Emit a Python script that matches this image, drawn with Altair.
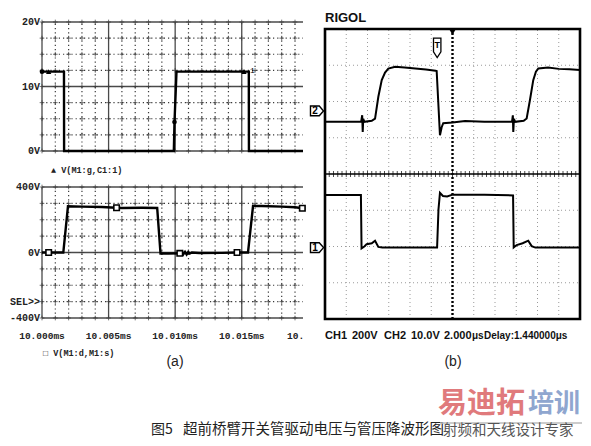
import altair as alt
import pandas as pd

# ---------------- data ----------------
# (a) upper trace: gate voltage V(M1:g,C1:1)   time [ms], volts
gate_t = [10.0000, 10.00165, 10.00166, 10.00990, 10.00995, 10.01010, 10.01553, 10.01554, 10.01960]
gate_v = [12.3, 12.3, 0.0, 0.0, 4.5, 12.3, 12.3, 0.0, 0.0]
gate_dot_t = [10.0000, 10.00995]
gate_dot_v = [12.3, 4.5]
gate_tri_t = [10.00050, 10.01517]
gate_tri_v = [12.3, 12.3]

# (a) lower trace: V(M1:d,M1:s)   time [ms], volts
vds_t = [10.0000, 10.00160, 10.00195, 10.0030, 10.0045, 10.0052, 10.0060, 10.0075, 10.00865,
         10.00890, 10.0095, 10.0103, 10.01050, 10.01062, 10.01074, 10.01086, 10.01098, 10.01110,
         10.01125, 10.0118, 10.0135, 10.01465, 10.01547, 10.01585, 10.0165, 10.0180, 10.0190, 10.0196]
vds_v = [0, 0, 282, 280, 278, 275, 272, 273, 272,
         -6, -6, -5, 6, -10, 4, -12, 3, -6,
         0, -3, -2, 0, 0, 285, 284, 280, 276, 270]
vds_sq_t = [10.0005, 10.0056, 10.01035, 10.01465, 10.01955]
vds_sq_v = [0, 273, -5, 0, 270]

# (b) oscilloscope: time [us] relative to screen centre
ch2_t = [-12.0, -8.60, -8.50, -8.45, -8.40, -8.30, -7.60, -7.29, -6.98, -6.66, -6.35, -6.04, -5.40,
         -4.50, -3.50, -2.50, -1.60, -1.49, -1.35, -1.18, -1.02, -0.87, 0.0, 1.18, 3.0, 5.60, 5.68,
         5.72, 5.78, 5.90, 6.70, 6.98, 7.29, 7.60, 7.85, 8.08, 9.0, 10.0, 11.0, 12.0]
ch2_v = [0.0, 0.0, 1.8, -2.8, 0.8, 0.0, 0.3, 0.9, 6.9, 11.5, 13.6, 14.7, 15.2,
         15.0, 14.7, 14.4, 14.1, 14.0, 6.0, -3.7, -1.5, -0.4, -0.2, 0.2, 0.0, 0.0, 1.8,
         -2.8, 0.8, 0.0, 0.3, 0.9, 6.0, 11.5, 13.8, 14.7, 15.0, 14.6, 14.5, 14.3]
ch1_t = [-12.0, -8.62, -8.56, -8.30, -8.08, -7.60, -7.29, -6.98, -6.60, -3.0, -1.45, -1.32, -1.18,
         -0.90, -0.50, 0.0, 3.0, 5.70, 5.76, 6.04, 6.60, 7.13, 7.45, 7.80, 10.0, 12.0]
ch1_v = [290, 290, -4, 6, 19, 24, 38, 4, 0, 0, 0, 210, 302,
         285, 282, 292, 292, 288, 1, 14, 24, 38, 8, 0, 0, 0]
CH1_VDIV, CH2_VDIV = 200.0, 10.0      # volts per division
CH1_GND, CH2_GND = -2.03, 1.44        # ground levels (divisions)
CH1_MARK, CH2_MARK = -2.03, 1.74
TRIG_T = -1.44

top_lbl_v = [20, 10, 0]
top_lbl_txt = ["20V", "10V", "0V"]
bot_lbl_v = [400, 0, -300, -400]
bot_lbl_txt = ["400V", "0V", "SEL>>", "-400V"]
x_lbl_t = [10.000, 10.005, 10.010, 10.015]
x_lbl_txt = ["10.000ms", "10.005ms", "10.010ms", "10.015ms"]

# ---------------- layout ----------------
def P(v):
    return v - 8

AX = alt.Scale(domain=[10.000, 10.0196], range=[P(42), P(303)], nice=False, zero=False)
AY1 = alt.Scale(domain=[0, 20], range=[P(151), P(22)], nice=False, zero=False)
AY2 = alt.Scale(domain=[-400, 400], range=[P(318), P(187)], nice=False, zero=False)
BX = alt.Scale(domain=[-12, 12], range=[P(325), P(580)], nice=False, zero=False)
BY = alt.Scale(domain=[-4, 4], range=[P(319), P(29)], nice=False, zero=False)


def qx(f, s):
    return alt.X(f, type="quantitative", scale=s, axis=None)


def qy(f, s):
    return alt.Y(f, type="quantitative", scale=s, axis=None)


def hrules(levels, x1, x2, xs, ys, **style):
    df = pd.DataFrame({"y": levels, "x1": [x1] * len(levels), "x2": [x2] * len(levels)})
    return alt.Chart(df).mark_rule(**style).encode(x=qx("x1", xs), x2=alt.X2("x2"), y=qy("y", ys))


def vrules(pos, y1, y2, xs, ys, **style):
    df = pd.DataFrame({"x": pos, "y1": [y1] * len(pos), "y2": [y2] * len(pos)})
    return alt.Chart(df).mark_rule(**style).encode(x=qx("x", xs), y=qy("y1", ys), y2=alt.Y2("y2"))


def trace(ts, vs, xs, ys, **style):
    df = pd.DataFrame({"t": ts, "v": vs, "i": list(range(len(ts)))})
    return alt.Chart(df).mark_line(**style).encode(x=qx("t", xs), y=qy("v", ys), order="i:Q")


def pts(ts, vs, xs, ys, **style):
    df = pd.DataFrame({"t": ts, "v": vs})
    return alt.Chart(df).mark_point(**style).encode(x=qx("t", xs), y=qy("v", ys))


ONE = pd.DataFrame({"a": [0]})


def label(txt, x, y, **kw):
    return alt.Chart(ONE).mark_text(text=txt, **kw).encode(x=alt.value(P(x)), y=alt.value(P(y)))


MONO = "Liberation Mono"
SANS = "Liberation Sans"
DOT = dict(color="#3a3a3a", strokeWidth=1.2, strokeDash=[1.2, 3])
SOLID = dict(color="#4a4a4a", strokeWidth=1.3)
CROSS = "M-1,0L1,0M0,-1L0,1"

layers = []

# ---- panel (a) grids ----
us_steps = [10.000 + i * 0.001 for i in range(20)]
majors = [us_steps[i] for i in range(20) if i % 5 == 0]
minors = [us_steps[i] for i in range(20) if i % 5 != 0]
top_levels = [i * 2.5 for i in range(9)]
bot_levels = [-400 + i * 100 for i in range(9)]
for levels, ys, solid_lv in [(top_levels, AY1, [0, 10, 20]), (bot_levels, AY2, [-400, 0, 400])]:
    lo, hi = levels[0], levels[-1]
    layers.append(vrules(minors, lo, hi, AX, ys, **DOT))
    layers.append(hrules([l for l in levels if l not in solid_lv], 10.000, 10.0196, AX, ys, **DOT))
    layers.append(vrules(majors, lo, hi, AX, ys, **SOLID))
    layers.append(hrules(solid_lv, 10.000, 10.0196, AX, ys, **SOLID))
    cx = [t for t in us_steps for _ in levels]
    cy = [l for _ in us_steps for l in levels]
    layers.append(pts(cx, cy, AX, ys, shape=CROSS, size=22, filled=False, color="#3a3a3a", strokeWidth=1))

# ---- panel (a) traces ----
layers.append(trace(gate_t, gate_v, AX, AY1, color="black", strokeWidth=2.4))
layers.append(trace(vds_t, vds_v, AX, AY2, color="black", strokeWidth=2.4))
layers.append(pts(gate_dot_t, gate_dot_v, AX, AY1, shape="circle", size=22, filled=True, color="black", opacity=1))
layers.append(pts(gate_tri_t, gate_tri_v, AX, AY1, shape="triangle-up", size=28, filled=True, color="black", opacity=1))
layers.append(pts(vds_sq_t, vds_sq_v, AX, AY2, shape="square", size=30, filled=True, fill="white",
                  stroke="black", strokeWidth=1.6, opacity=1))
layers.append(alt.Chart(pd.DataFrame({"t": [gate_tri_t[1]], "v": [gate_tri_v[1]]})).mark_text(
    text="1", font=MONO, fontSize=8, dx=6, dy=-1, align="left", color="black").encode(
    x=qx("t", AX), y=qy("v", AY1)))

# ---- panel (a) labels ----
layers.append(alt.Chart(pd.DataFrame({"v": top_lbl_v, "s": top_lbl_txt})).mark_text(
    font=MONO, fontSize=10, fontWeight="bold", align="right", baseline="middle", color="#222").encode(
    x=alt.value(P(40)), y=qy("v", AY1), text="s:N"))
layers.append(alt.Chart(pd.DataFrame({"v": bot_lbl_v, "s": bot_lbl_txt})).mark_text(
    font=MONO, fontSize=10, fontWeight="bold", align="right", baseline="middle", color="#222").encode(
    x=alt.value(P(40)), y=qy("v", AY2), text="s:N"))
layers.append(alt.Chart(pd.DataFrame({"t": x_lbl_t, "s": x_lbl_txt})).mark_text(
    font=MONO, fontSize=9.5, fontWeight="bold", align="center", baseline="middle", color="#222").encode(
    x=qx("t", AX), y=alt.value(P(336)), text="s:N"))
layers.append(label("10.", 287, 336, font=MONO, fontSize=9.5, fontWeight="bold", align="left",
                    baseline="middle", color="#222"))
layers.append(label("\u25b2 V(M1:g,C1:1)", 51, 170, font=MONO, fontSize=8.5, fontWeight="bold",
                    align="left", baseline="middle", color="#222"))
layers.append(label("\u25a1 V(M1:d,M1:s)", 43, 353, font=MONO, fontSize=8.5, fontWeight="bold",
                    align="left", baseline="middle", color="#222"))
layers.append(label("(a)", 175, 362, font=SANS, fontSize=14, align="center",
                    baseline="middle", color="#222"))

# ---- panel (b) grid ----
GRID_B = dict(color="#9a9a9a", strokeWidth=1, strokeDash=[1, 3])
layers.append(vrules([t for t in range(-10, 11, 2) if t != 0], -4, 4, BX, BY, **GRID_B))
layers.append(hrules([d for d in range(-3, 4) if d != 0], -12, 12, BX, BY, **GRID_B))
layers.append(hrules([0], -12, 12, BX, BY, color="black", strokeWidth=1.5))
tick_t = [-12 + i * 0.4 for i in range(61)]
layers.append(alt.Chart(pd.DataFrame({"t": tick_t, "d": [0] * len(tick_t)})).mark_tick(
    orient="vertical", size=6, thickness=1, color="black").encode(x=qx("t", BX), y=qy("d", BY)))
layers.append(vrules([0], -4, 4, BX, BY, color="black", strokeWidth=2.4, strokeDash=[2, 2]))
layers.append(alt.Chart(pd.DataFrame({"x1": [-12], "x2": [12], "y1": [-4], "y2": [4]})).mark_rect(
    filled=False, stroke="black", strokeWidth=2.6).encode(
    x=qx("x1", BX), x2=alt.X2("x2"), y=qy("y1", BY), y2=alt.Y2("y2")))

# ---- panel (b) traces ----
ch2_div = [CH2_GND + v / CH2_VDIV for v in ch2_v]
ch1_div = [CH1_GND + v / CH1_VDIV for v in ch1_v]
layers.append(trace(ch2_t, ch2_div, BX, BY, color="black", strokeWidth=2))
layers.append(trace(ch1_t, ch1_div, BX, BY, color="black", strokeWidth=2))

# ---- panel (b) markers ----
ARROW = "M-1,-0.75L0.35,-0.75L1,0L0.35,0.75L-1,0.75Z"
layers.append(pts([-12, -12], [CH2_MARK, CH1_MARK], BX, BY, shape=ARROW, size=170, filled=True, fill="white",
                  stroke="black", strokeWidth=1.4, opacity=1, xOffset=-8))
layers.append(alt.Chart(pd.DataFrame({"t": [-12, -12], "d": [CH2_MARK, CH1_MARK], "s": ["2", "1"]})).mark_text(
    font=SANS, fontSize=10, fontWeight="bold", dx=-10, baseline="middle", align="center", color="black").encode(
    x=qx("t", BX), y=qy("d", BY), text="s:N"))
PENCIL = "M-0.38,-1L0.38,-1L0.38,0.4L0,1L-0.38,0.4Z"
layers.append(pts([TRIG_T], [3.48], BX, BY, shape=PENCIL, size=380, filled=True, fill="white",
                  stroke="black", strokeWidth=1.3, opacity=1))
layers.append(alt.Chart(pd.DataFrame({"t": [TRIG_T], "d": [3.48]})).mark_text(
    text="T", font=SANS, fontSize=9, fontWeight="bold", dy=-3, baseline="middle", color="black").encode(
    x=qx("t", BX), y=qy("d", BY)))
layers.append(pts([0], [4], BX, BY, shape="triangle-down", size=45, filled=True, color="black", opacity=1,
                  yOffset=3))

# ---- panel (b) texts ----
layers.append(label("RIGOL", 325, 18, font=SANS, fontSize=13, fontWeight="bold", align="left",
                    baseline="middle", color="#111"))
for txt, x, fs in [("CH1", 325, 11), ("200V", 352, 11), ("CH2", 384, 11), ("10.0V", 411, 11),
                   ("2.000", 444, 11), ("\u03bcs", 472, 10), ("Delay:1.440000\u03bcs", 484, 10)]:
    layers.append(label(txt, x, 336, font=SANS, fontSize=fs, fontWeight="bold", align="left",
                        baseline="middle", color="#111"))
layers.append(label("(b)", 453, 362, font=SANS, fontSize=14, align="center",
                    baseline="middle", color="#222"))

# ---- caption & watermark ----
CJK = "Noto Sans CJK SC"
layers.append(label("\u56fe5", 151, 430, font=CJK, fontSize=14, align="left", baseline="middle", color="#222"))
layers.append(label("\u8d85\u524d\u6865\u81c2\u5f00\u5173\u7ba1\u9a71\u52a8\u7535\u538b\u4e0e\u7ba1\u538b\u964d\u6ce2\u5f62\u56fe",
                    183, 430, font=CJK, fontSize=14.5, align="left", baseline="middle", color="#222"))
layers.append(label("\u6613\u8fea\u62d3", 438, 404, font=CJK, fontSize=29, fontWeight="bold", align="left",
                    baseline="middle", color="#e07a7c"))
layers.append(label("\u57f9\u8bad", 528, 404, font=CJK, fontSize=26, fontWeight="bold", align="left",
                    baseline="middle", color="#8fa6cf"))
layers.append(alt.Chart(ONE).mark_rule(color="#bbbbbb", strokeWidth=1.5).encode(
    x=alt.value(P(440)), x2=alt.value(P(582)), y=alt.value(P(423))))
layers.append(label("\u5c04\u9891\u548c\u5929\u7ebf\u8bbe\u8ba1\u4e13\u5bb6", 443, 431, font=CJK, fontSize=14.5,
                    align="left", baseline="middle", color="#555555"))

chart = alt.layer(*layers).resolve_scale(x="independent", y="independent").properties(
    width=575, height=430, padding=0, background="white",
    autosize=alt.AutoSizeParams(type="none"),
).configure_view(stroke=None)

chart.save("out.html", embed_options={"renderer": "svg", "actions": False})
